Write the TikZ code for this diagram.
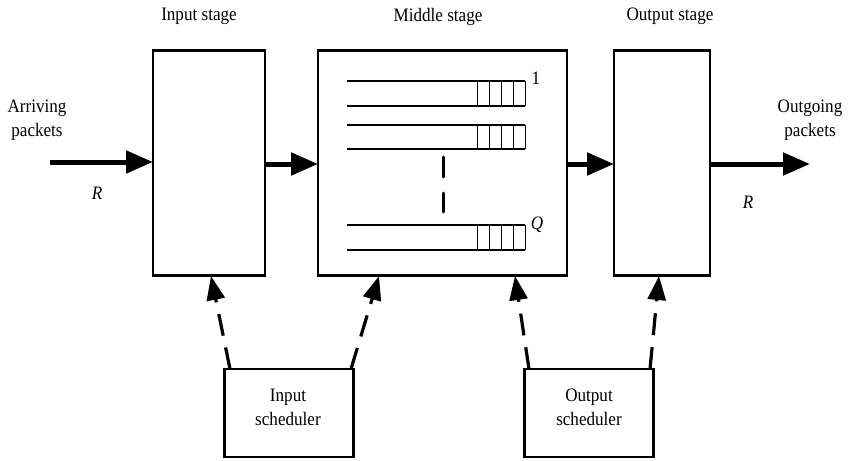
\documentclass[tikz,border=0pt]{standalone}
\usepackage{fontspec}
\setmainfont{Liberation Serif}[FakeStretch=0.9]
\usetikzlibrary{arrows.meta}
\begin{document}
\begin{tikzpicture}[x=1pt,y=-1pt,
  every node/.style={font=\fontsize{19}{24}\selectfont, inner sep=0pt, outer sep=0pt},
  stagebox/.style={draw, line width=2.5pt, rectangle},
  bigarrow/.style={line width=5pt, -{Triangle[length=27pt,width=22pt]}},
  ctrlarrow/.style={line width=3.2pt, dash pattern=on 22pt off 12pt, -{Triangle[length=24pt,width=18pt]}},
  qline/.style={line width=1.5pt},
  cell/.style={line width=1pt},
  lbl/.style={align=center}
]
\useasboundingbox (0,0) rectangle (850,460);
% stage boxes
\node[stagebox, minimum width=112pt, minimum height=225pt] (in) at (209,163) {};
\node[stagebox, minimum width=249pt, minimum height=225pt] (mid) at (442.5,163) {};
\node[stagebox, minimum width=96pt, minimum height=225pt] (out) at (662,163) {};
% schedulers
\node[stagebox, minimum width=129pt, minimum height=88pt] (isch) at (289,413) {};
\node[stagebox, minimum width=129pt, minimum height=88pt] (osch) at (589,413) {};
\node[lbl] (ischt) at (288,407) {Input\\scheduler};
\node[lbl] (oscht) at (589,407) {Output\\scheduler};
% titles
\node (tin) at (199,16) {Input stage};
\node (tmid) at (438,17) {Middle stage};
\node (tout) at (670,16) {Output stage};
% side labels
\node[lbl] (arr) at (37,120) {Arriving\\packets};
\node[lbl] (outg) at (810,120) {Outgoing\\packets};
\node (r1) at (97,193) {\itshape R};
\node (r2) at (748,202) {\itshape R};
% horizontal arrows
\coordinate (src) at (50,162);
\coordinate (dst) at (810,164);
\draw[bigarrow] (src) -- (in.west |- src);
\draw[bigarrow] (in.east |- 0,164) -- (mid.west |- 0,164);
\draw[bigarrow] (mid.east |- 0,164) -- (out.west |- 0,164);
\draw[bigarrow] (out.east |- dst) -- (dst);
% queues
\foreach \yt/\yb in {81/106, 125/149, 225/250}{
  \draw[qline] (347,\yt) -- (525,\yt);
  \draw[qline] (347,\yb) -- (525,\yb);
  \foreach \xx in {477,489,501,513,525}{
    \draw[cell] (\xx,\yt) -- (\xx,\yb);
  }
}
\node (q1) at (536,78) {1};
\node (qq) at (537,225) {\itshape Q};
\draw[line width=3pt, line cap=round] (443,157) -- (443,177);
\draw[line width=3pt, line cap=round] (443,193) -- (443,212);
% control arrows
\coordinate (t1) at (211,276);
\coordinate (t2) at (379,276);
\coordinate (t3) at (515,276);
\coordinate (t4) at (659,276);
\draw[ctrlarrow] (isch.north west -| 230,0) -- (t1);
\draw[ctrlarrow] (isch.north east -| 351,0) -- (t2);
\draw[ctrlarrow] (osch.north west -| 529,0) -- (t3);
\draw[ctrlarrow] (osch.north east -| 650,0) -- (t4);
\end{tikzpicture}
\end{document}
